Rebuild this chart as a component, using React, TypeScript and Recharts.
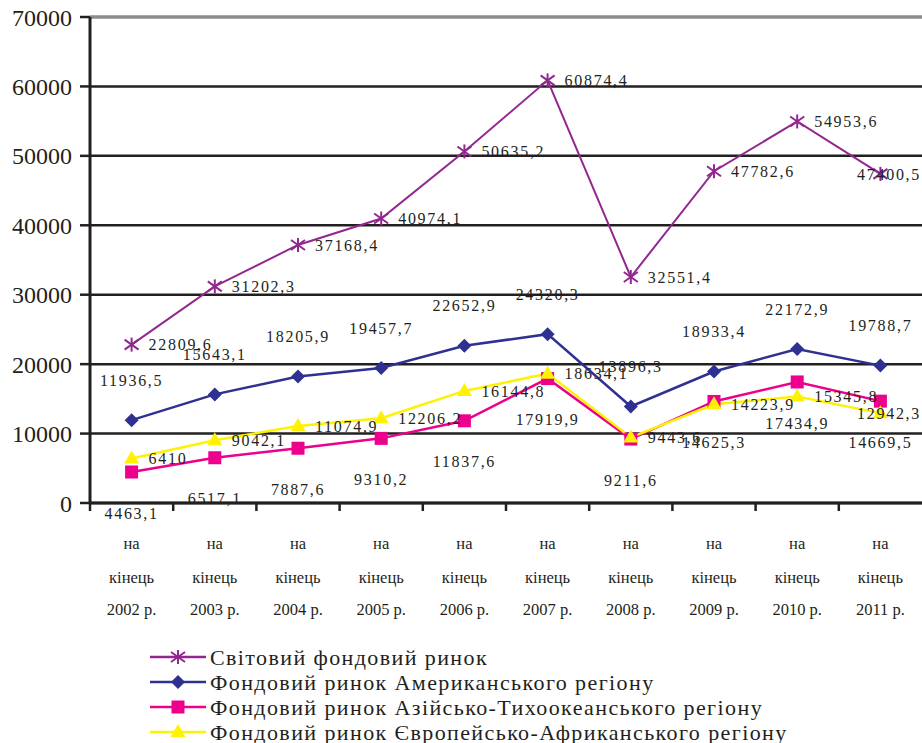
import React from 'react';
import { LineChart, Line, XAxis, YAxis, CartesianGrid, ReferenceLine, LabelList, Legend } from 'recharts';

// values (mln USD, end of year)
const years = ['2002', '2003', '2004', '2005', '2006', '2007', '2008', '2009', '2010', '2011'];
const worldMarket = [22809.6, 31202.3, 37168.4, 40974.1, 50635.2, 60874.4, 32551.4, 47782.6, 54953.6, 47400.5];
const americanMarket = [11936.5, 15643.1, 18205.9, 19457.7, 22652.9, 24320.3, 13896.3, 18933.4, 22172.9, 19788.7];
const asiaPacificMarket = [4463.1, 6517.1, 7887.6, 9310.2, 11837.6, 17919.9, 9211.6, 14625.3, 17434.9, 14669.5];
const euroAfricaMarket = [6410, 9042.1, 11074.9, 12206.2, 16144.8, 18634.1, 9443.6, 14223.9, 15345.8, 12942.3];
const yTicks = [0, 10000, 20000, 30000, 40000, 50000, 60000, 70000];

const SERIES = [
  { key: 'world', name: 'Світовий фондовий ринок', color: '#92278F', shape: 'star', width: 2, label: 'right' },
  { key: 'america', name: 'Фондовий ринок Американського регіону', color: '#2E3192', shape: 'diamond', width: 2.5, label: 'top' },
  { key: 'asia', name: 'Фондовий ринок Азійсько-Тихоокеанського регіону', color: '#EC008C', shape: 'square', width: 2.5, label: 'bottom' },
  { key: 'euro', name: 'Фондовий ринок Європейсько-Африканського регіону', color: '#FFF200', shape: 'triangle', width: 2.5, label: 'right' },
];

const data = years.map((y, i) => ({
  year: y,
  world: worldMarket[i],
  america: americanMarket[i],
  asia: asiaPacificMarket[i],
  euro: euroAfricaMarket[i],
}));

const W = 922;
const H = 743;
const PLOT_LEFT = 90;
const BAND = (W - PLOT_LEFT) / years.length;
const FONT = '"Liberation Serif", "Times New Roman", serif';
const INK = '#231F20';

const fmt = (v: number) => String(v).replace('.', ',');

function Marker({ shape, cx, cy, color }: any) {
  if (shape === 'star') {
    return (
      <g stroke={color} strokeWidth={2}>
        <line x1={cx} y1={cy - 7} x2={cx} y2={cy + 7} />
        <line x1={cx - 7} y1={cy - 5} x2={cx + 7} y2={cy + 5} />
        <line x1={cx - 7} y1={cy + 5} x2={cx + 7} y2={cy - 5} />
      </g>
    );
  }
  if (shape === 'diamond') {
    return <polygon points={`${cx},${cy - 7} ${cx + 7},${cy} ${cx},${cy + 7} ${cx - 7},${cy}`} fill={color} />;
  }
  if (shape === 'square') {
    return <rect x={cx - 6.5} y={cy - 6.5} width={13} height={13} fill={color} />;
  }
  return <polygon points={`${cx},${cy - 8} ${cx + 7.5},${cy + 5} ${cx - 7.5},${cy + 5}`} fill={color} />;
}

const makeDot = (shape: string, color: string) => (props: any) => {
  const { cx, cy, index } = props;
  if (cx == null || cy == null) return <g key={index} />;
  return <Marker key={index} shape={shape} cx={cx} cy={cy} color={color} />;
};

const labelStyle = { fontFamily: FONT, fontSize: 16, letterSpacing: 1.7, fill: INK };

const makeLabel = (pos: string) => (props: any) => {
  const x = props.x ?? props.viewBox?.x;
  const y = props.y ?? props.viewBox?.y;
  const { value, index } = props;
  if (x == null || y == null) return null;
  if (pos === 'top') {
    return <text key={index} x={x} y={y - 40} dy="0.35em" textAnchor="middle" style={labelStyle}>{fmt(value)}</text>;
  }
  if (pos === 'bottom') {
    return <text key={index} x={x} y={y + 41} dy="0.35em" textAnchor="middle" style={labelStyle}>{fmt(value)}</text>;
  }
  // right of the point; the last one is pulled back inside the picture
  const last = index === years.length - 1;
  return (
    <text key={index} x={last ? W - 1 : x + 17} y={y} dy="0.35em" textAnchor={last ? 'end' : 'start'} style={labelStyle}>
      {fmt(value)}
    </text>
  );
};

function YearTick({ x, y, payload }: any) {
  const bx = x - BAND / 2;
  const style = { fontFamily: FONT, fontSize: 16.5, fill: INK };
  return (
    <g>
      <line x1={bx} y1={y} x2={bx} y2={y + 8} stroke={INK} strokeWidth={2.5} />
      <text x={x} y={y + 40} dy="0.35em" textAnchor="middle" style={style}>на</text>
      <text x={x} y={y + 74} dy="0.35em" textAnchor="middle" style={style}>кінець</text>
      <text x={x} y={y + 106} dy="0.35em" textAnchor="middle" style={style}>{payload.value} р.</text>
    </g>
  );
}

function LegendBox() {
  return (
    <svg width={700} height={100}>
      {SERIES.map((s, i) => {
        const cy = 12 + i * 25;
        return (
          <g key={s.key}>
            <line x1={0} x2={56} y1={cy} y2={cy} stroke={s.color} strokeWidth={2.5} />
            <Marker shape={s.shape} cx={28} cy={cy} color={s.color} />
            <text x={60} y={cy} dy="0.35em" style={{ fontFamily: FONT, fontSize: 22, letterSpacing: 1.4, fill: INK }}>
              {s.name}
            </text>
          </g>
        );
      })}
    </svg>
  );
}

export default function App() {
  return (
    <div style={{ position: 'absolute', left: 0, top: 0, width: W, height: H, background: '#fff' }}>
      <LineChart width={W} height={H} data={data} margin={{ top: 17, right: 0, bottom: 150, left: 0 }}>
        <CartesianGrid vertical={false} stroke={INK} strokeWidth={2.5} />
        <ReferenceLine y={70000} stroke="#8C8C8C" strokeWidth={3} />
        <XAxis
          dataKey="year"
          height={90}
          interval={0}
          padding={{ left: BAND / 2, right: BAND / 2 }}
          axisLine={{ stroke: INK, strokeWidth: 3 }}
          tickLine={false}
          tickSize={0}
          tickMargin={0}
          tick={<YearTick />}
        />
        <YAxis
          width={PLOT_LEFT}
          domain={[0, 70000]}
          ticks={yTicks}
          interval={0}
          axisLine={{ stroke: INK, strokeWidth: 3 }}
          tickLine={{ stroke: INK, strokeWidth: 2.5 }}
          tickSize={10}
          tickMargin={8}
          tick={{ fontFamily: FONT, fontSize: 24, fill: INK }}
        />
        <Legend
          layout="vertical"
          align="center"
          verticalAlign="middle"
          wrapperStyle={{ top: 645, left: 150, width: 700, height: 100 }}
          content={() => <LegendBox />}
        />
        {SERIES.map((s) => (
          <Line
            key={s.key}
            dataKey={s.key}
            name={s.name}
            stroke={s.color}
            strokeWidth={s.width}
            dot={makeDot(s.shape, s.color)}
            activeDot={false}
            isAnimationActive={false}
          >
            <LabelList dataKey={s.key} content={makeLabel(s.label)} />
          </Line>
        ))}
      </LineChart>
    </div>
  );
}
